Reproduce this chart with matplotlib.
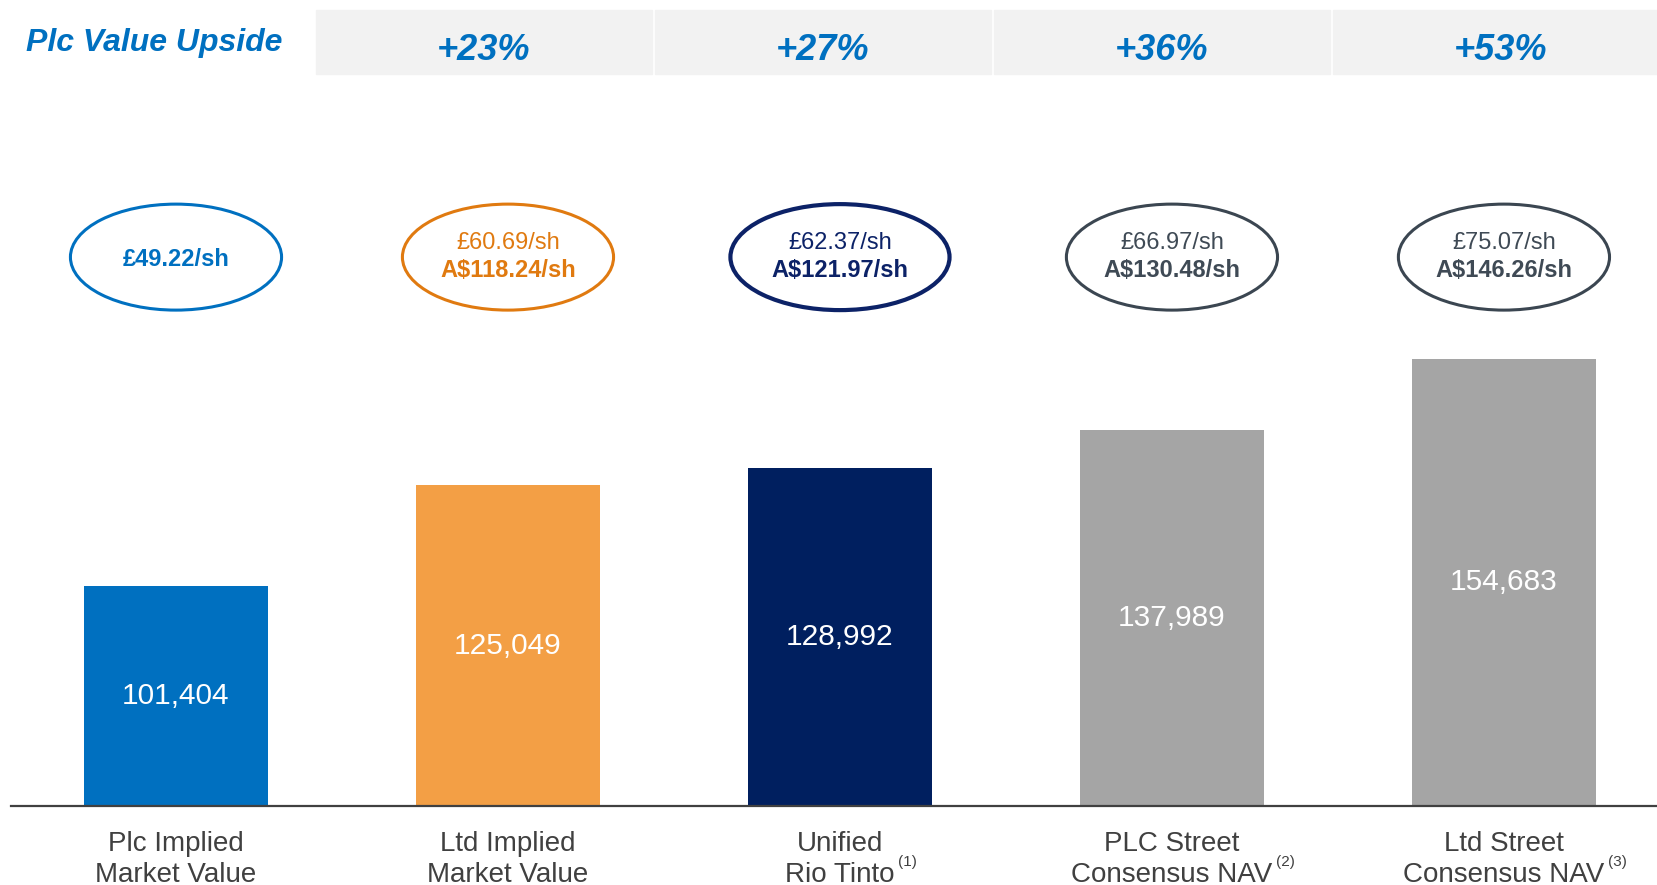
import matplotlib
matplotlib.use("Agg")
import matplotlib.pyplot as plt
from matplotlib.patches import Ellipse, Rectangle
from matplotlib.transforms import blended_transform_factory

# data
line1 = ["Plc Implied", "Ltd Implied", "Unified", "PLC Street", "Ltd Street"]
line2 = ["Market Value", "Market Value", "Rio Tinto", "Consensus NAV", "Consensus NAV"]
footnotes = ["", "", "(1)", "(2)", "(3)"]
values = [101404, 125049, 128992, 137989, 154683]
gbp_sh = ["£49.22/sh", "£60.69/sh", "£62.37/sh", "£66.97/sh", "£75.07/sh"]
aud_sh = ["", "A$118.24/sh", "A$121.97/sh", "A$130.48/sh", "A$146.26/sh"]
upside = ["+23%", "+27%", "+36%", "+53%"]

bar_colors = ["#0070C0", "#F39F45", "#001F5F", "#A5A5A5", "#A5A5A5"]
ring_colors = ["#0070C0", "#E07A10", "#0C2267", "#3B4651", "#3B4651"]
text_colors = ["#0070C0", "#E07A10", "#0C2267", "#3F4A55", "#3F4A55"]
blue = "#0070C0"
grey_txt = "#404040"

plt.rcParams["font.family"] = ["Liberation Sans", "DejaVu Sans"]

W, H = 1657, 885
fig = plt.figure(figsize=(W / 100, H / 100), dpi=100)
ax = fig.add_axes([11 / W, 79 / H, 1646 / W, 806 / H])

x = list(range(len(values)))
ax.bar(x, values, width=0.554, color=bar_colors, zorder=2)
ax.set_xlim(-0.497, 4.461)
ax.set_ylim(50000, 238600)

for s in ["top", "left", "right"]:
    ax.spines[s].set_visible(False)
ax.spines["bottom"].set_color("#404040")
ax.spines["bottom"].set_linewidth(1.6)
ax.set_xticks([])
ax.set_yticks([])

y0 = ax.get_ylim()[0]
for i, v in enumerate(values):
    ax.text(i, (y0 + v) / 2, f"{v:,}", ha="center", va="center",
            color="white", fontsize=21.5, zorder=3)

trans = blended_transform_factory(ax.transData, ax.transAxes)

# per-share ellipses
for i in x:
    w = 0.66 if i == 2 else 0.636
    lw = 3.0 if i == 2 else 2.2
    ax.add_patch(Ellipse((i, 0.681), w, 0.1315, transform=trans, fill=False,
                         ec=ring_colors[i], lw=lw, clip_on=False))
    if aud_sh[i]:
        ax.text(i, 0.698, gbp_sh[i], transform=trans, ha="center", va="center",
                color=text_colors[i], fontsize=17)
        ax.text(i, 0.664, aud_sh[i], transform=trans, ha="center", va="center",
                color=text_colors[i], fontsize=17, fontweight="bold")
    else:
        ax.text(i, 0.678, gbp_sh[i], transform=trans, ha="center", va="center",
                color=text_colors[i], fontsize=17, fontweight="bold")

# category labels
labels = []
for i in x:
    ax.text(i, -0.047, line1[i], transform=trans, ha="center", va="center",
            color=grey_txt, fontsize=20)
    t = ax.text(i, -0.085, line2[i], transform=trans, ha="center", va="center",
                color=grey_txt, fontsize=20)
    labels.append(t)

# header strip
fig.text(26 / W, 1 - 43 / H, "Plc Value Upside", ha="left", va="center",
         color=blue, fontsize=23, fontweight="bold", fontstyle="italic")
left, col_w, gap = 316, 339, 3
for k, txt in enumerate(upside):
    x0 = left + k * col_w
    fig.patches.append(Rectangle((x0 / W, 1 - 74 / H), (col_w - gap) / W, 63.5 / H,
                                 transform=fig.transFigure, color="#F2F2F2", zorder=0))
    fig.text((x0 + (col_w - gap) / 2) / W, 1 - 50 / H, txt, ha="center", va="center",
             color=blue, fontsize=26, fontweight="bold", fontstyle="italic")

# footnote markers
fig.canvas.draw()
r = fig.canvas.get_renderer()
for i, t in enumerate(labels):
    if footnotes[i]:
        bb = t.get_window_extent(r)
        fig.text((bb.x1 + 3) / W, (bb.y1 + 7) / H, footnotes[i], ha="left", va="top",
                 color=grey_txt, fontsize=11)

fig.savefig("out.png", dpi=100)
